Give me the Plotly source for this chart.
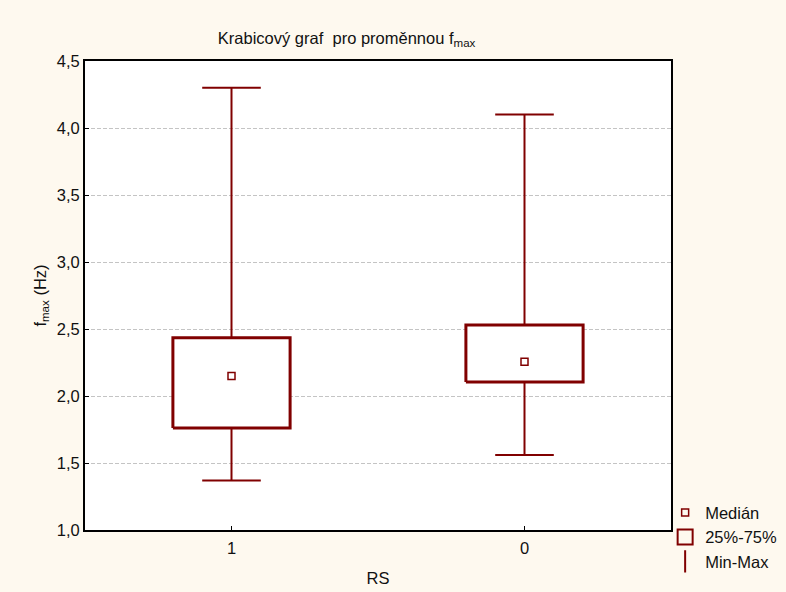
import plotly.graph_objects as go

categories = ["1", "0"]
minimum = [1.37, 1.56]
q1 = [1.762, 2.105]
median = [2.15, 2.255]
q3 = [2.434, 2.53]
maximum = [4.30, 4.10]

color = "#800000"
box_half = 0.2
cap_half = 0.1
pos = list(range(len(categories)))

fig = go.Figure()

# whiskers
wx, wy = [], []
for i, p in enumerate(pos):
    wx += [p, p, None, p, p, None, p - cap_half, p + cap_half, None, p - cap_half, p + cap_half, None]
    wy += [minimum[i], q1[i], None, q3[i], maximum[i], None, maximum[i], maximum[i], None, minimum[i], minimum[i], None]
fig.add_trace(go.Scatter(x=wx, y=wy, mode="lines", line=dict(color=color, width=2),
                         showlegend=False, hoverinfo="skip"))

# boxes
for i, p in enumerate(pos):
    fig.add_trace(go.Scatter(
        x=[p - box_half, p + box_half, p + box_half, p - box_half, p - box_half],
        y=[q1[i], q1[i], q3[i], q3[i], q1[i]],
        mode="lines", fill="toself", fillcolor="white",
        line=dict(color=color, width=3), showlegend=False, hoverinfo="skip"))

# medians
fig.add_trace(go.Scatter(x=pos, y=median, mode="markers",
                         marker=dict(symbol="square-open", size=7, color=color, line=dict(width=1.5)),
                         name="Medián", hoverinfo="y"))

# legend dummies
fig.add_trace(go.Scatter(x=[None], y=[None], mode="markers",
                         marker=dict(symbol="square-open", size=15, color=color, line=dict(width=2)),
                         name="25%-75%"))
fig.add_trace(go.Scatter(x=[None], y=[None], mode="markers",
                         marker=dict(symbol="line-ns-open", size=16, color=color, line=dict(width=2)),
                         name="Min-Max"))

fs = 16.5
fig.update_layout(
    width=786, height=592,
    margin=dict(l=85, r=115, t=61, b=62, autoexpand=False),
    paper_bgcolor="#FEF9EF",
    plot_bgcolor="white",
    separators=", ",
    font=dict(family="Arial, Liberation Sans, sans-serif", size=fs, color="#111111"),
    title=dict(text="Krabicový graf  pro proměnnou f<sub>max</sub>",
               xref="container", x=0.441, xanchor="center",
               yref="container", y=0.936, yanchor="middle",
               font=dict(size=fs)),
    xaxis=dict(range=[-0.5, 1.5], tickvals=pos, ticktext=categories,
               showgrid=False, zeroline=False, ticks="inside", ticklen=4,
               tickcolor="black", showline=True, mirror=True, linecolor="black", linewidth=2,
               ticklabelstandoff=2, tickfont=dict(size=fs),
               title=dict(text="RS", standoff=17, font=dict(size=fs))),
    yaxis=dict(range=[1.0, 4.5], dtick=0.5, tickformat=".1f",
               showgrid=True, gridcolor="#C4C4C4", griddash="4px,2px", gridwidth=1,
               zeroline=False, ticks="inside", ticklen=4, tickcolor="black",
               showline=True, mirror=True, linecolor="black", linewidth=2,
               tickfont=dict(size=fs),
               title=dict(text="f<sub>max</sub> (Hz)", standoff=6, font=dict(size=fs))),
    legend=dict(x=0.99, xanchor="left", y=-0.105, yanchor="bottom",
                bgcolor="rgba(0,0,0,0)", font=dict(size=fs),
                itemsizing="trace", tracegroupgap=0),
    showlegend=True,
)

fig.write_html("out.html")
